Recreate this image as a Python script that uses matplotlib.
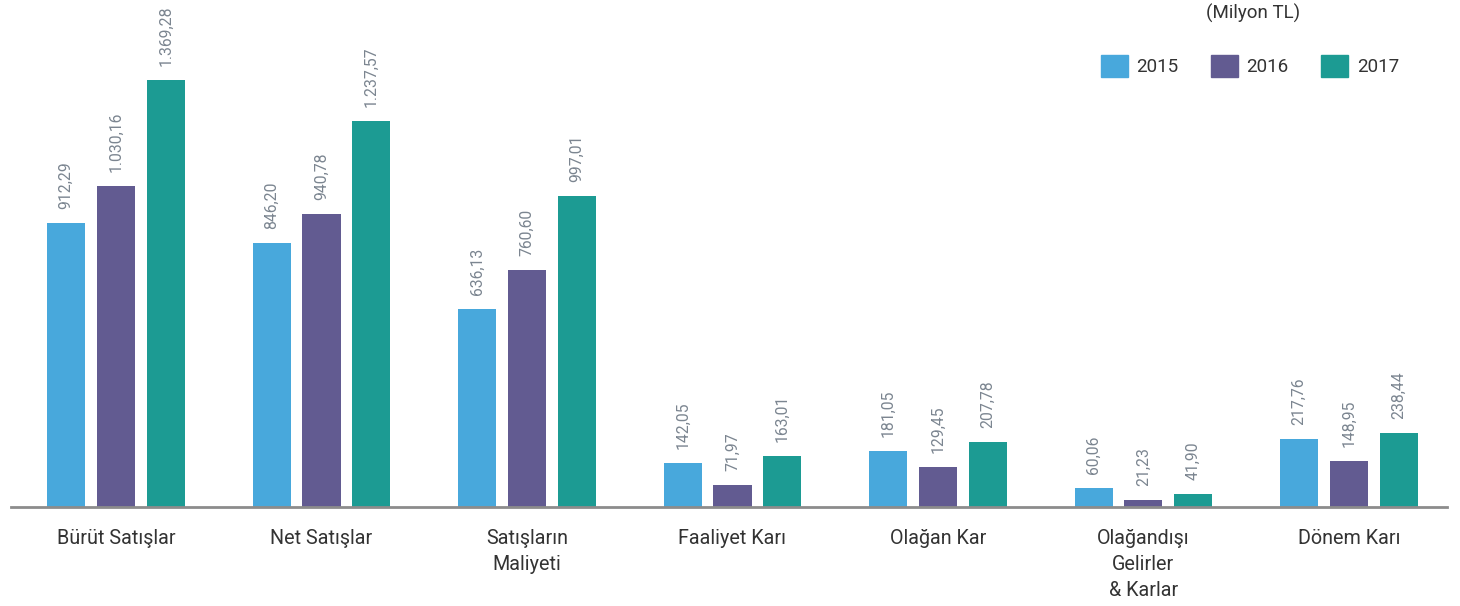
import matplotlib.pyplot as plt
import numpy as np
from matplotlib.patches import Patch

plt.rcParams['font.family'] = ['Roboto', 'DejaVu Sans']

# ------- data (Milyon TL) -------
categories = ['Bürüt Satışlar', 'Net Satışlar', 'Satışların\nMaliyeti', 'Faaliyet Karı',
              'Olağan Kar', 'Olağandışı\nGelirler\n& Karlar', 'Dönem Karı']
years = ['2015', '2016', '2017']
v2015 = [912.29, 846.20, 636.13, 142.05, 181.05, 60.06, 217.76]
v2016 = [1030.16, 940.78, 760.60, 71.97, 129.45, 21.23, 148.95]
v2017 = [1369.28, 1237.57, 997.01, 163.01, 207.78, 41.90, 238.44]

colors = ['#48a8dc', '#625b91', '#1c9b93']

def tr_fmt(v):
    # 1369.28 -> 1.369,28
    s = '{:,.2f}'.format(v)
    return s.replace(',', 'X').replace('.', ',').replace('X', '.')

fig = plt.figure(figsize=(14.6, 6.06), dpi=100)
ax = fig.add_axes([11/1460, 99/606, 1436/1460, 507/606])

x = np.arange(len(categories))
w = 0.185
off = 0.243
for i, vals in enumerate([v2015, v2016, v2017]):
    xs = x + (i - 1)*off
    ax.bar(xs, vals, width=w, color=colors[i], zorder=2)
    for xi, v in zip(xs, vals):
        ax.annotate(tr_fmt(v), (xi, v), xytext=(0, 10), textcoords='offset points',
                    rotation=90, ha='center', va='bottom', fontsize=11.3,
                    color='#7b8590', annotation_clip=False)

ax.set_xlim(-0.511, 6.477)
ax.set_ylim(0, 1626)
for s in ['top', 'right', 'left']:
    ax.spines[s].set_visible(False)
ax.spines['bottom'].set_color('#8c8c8c')
ax.spines['bottom'].set_linewidth(2)
ax.set_yticks([])
ax.set_xticks(x)
ax.set_xticklabels(categories, fontsize=14.2, color='#333333', linespacing=1.45)
ax.tick_params(axis='x', length=0, pad=16)
ax.patch.set_alpha(0)

# legend
handles = [Patch(color=c) for c in colors]
fig.legend(handles, years, loc='center left', bbox_to_anchor=(1093/1460, 1 - 66/606),
           ncol=3, frameon=False, fontsize=13.5, handlelength=1.44, handleheight=1.44,
           handletextpad=0.48, columnspacing=1.7, borderaxespad=0,
           labelcolor='#333333')
fig.text(1253/1460, 1 - 13/606, '(Milyon TL)', ha='center', va='center',
         fontsize=13.5, color='#333333')

fig.savefig('out.png', dpi=100)
